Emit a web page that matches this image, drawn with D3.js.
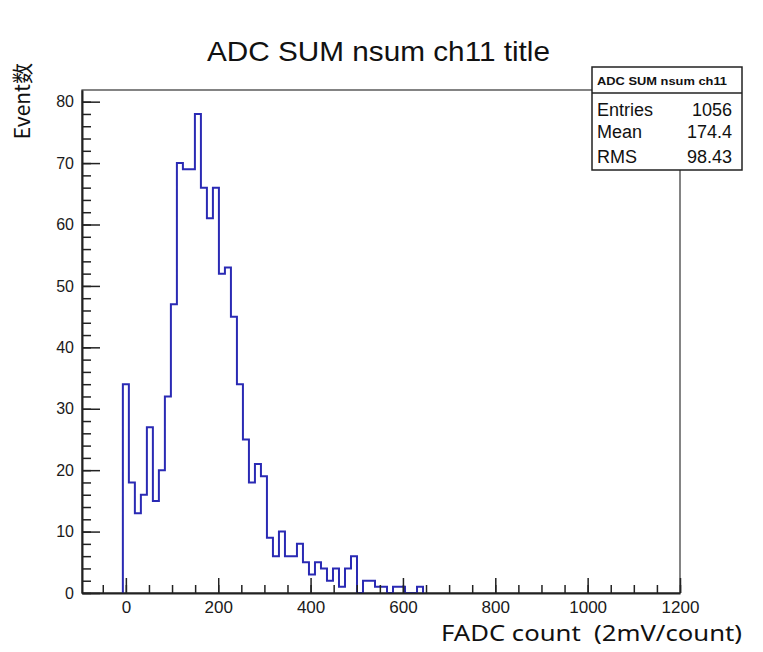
<!DOCTYPE html>
<html lang="en">
<head>
  <meta charset="UTF-8" />
  <title>ADC SUM nsum ch11</title>
  <script src="https://d3js.org/d3.v7.min.js"></script>
  <style>
    body {
      margin: 0;
      background-color: #fff;
    }
    svg {
      display: block;
      font-family: 'Liberation Sans', Arial, sans-serif;
    }
    .tick text {
      fill: #1a1a1a;
    }
  </style>
</head>
<body>
  <script>
    // histogram contents, one count per bin (bin width 13, first bin starts at -6.5)
    const binLow = -6.5;
    const binWidth = 13;
    const counts = [34, 18, 13, 16, 27, 15, 20, 32, 47, 70,
                    69, 69, 78, 66, 61, 66, 52, 53, 45, 34,
                    25, 18, 21, 19, 9, 6, 10, 6, 6, 8,
                    5, 3, 5, 4, 2, 4, 1, 4, 6, 0,
                    2, 2, 1, 1, 0, 1, 1, 0, 0, 1];
    const xMajor = [0, 200, 400, 600, 800, 1000, 1200];
    const yMajor = [0, 10, 20, 30, 40, 50, 60, 70, 80];
    const statNames = ["Entries", "Mean", "RMS"];
    const statValues = ["1056", "174.4", "98.43"];

    const svg = d3.select("body").append("svg")
      .attr("width", 763)
      .attr("height", 652);

    svg.append("rect").attr("width", 763).attr("height", 652).attr("fill", "#fff");

    const x = d3.scaleLinear().domain([-95, 1200]).range([82, 680]);
    const y = d3.scaleLinear().domain([0, 81.9]).range([593, 90]);

    // frame
    svg.append("rect")
      .attr("x", 82).attr("y", 90)
      .attr("width", 598).attr("height", 503)
      .attr("fill", "none")
      .attr("stroke", "#333")
      .attr("stroke-width", 1.2);

    // histogram outline
    const pts = [[binLow, 0]];
    counts.forEach((c, i) => {
      pts.push([binLow + i * binWidth, c]);
      pts.push([binLow + (i + 1) * binWidth, c]);
    });
    pts.push([binLow + counts.length * binWidth, 0]);
    svg.append("path")
      .datum(pts)
      .attr("fill", "none")
      .attr("stroke", "#2a2ab4")
      .attr("stroke-width", 2)
      .attr("d", d3.line().x(d => x(d[0])).y(d => y(d[1])));

    // x axis: minor then major ticks pointing inward
    svg.append("g").attr("transform", "translate(0,593)")
      .call(d3.axisBottom(x).tickValues(d3.range(-50, 1201, 50)).tickSizeInner(-8).tickSizeOuter(0).tickFormat(""))
      .call(g => g.select(".domain").attr("stroke", "#222").attr("stroke-width", 2))
      .call(g => g.selectAll(".tick line").attr("stroke", "#222").attr("stroke-width", 1.5));
    svg.append("g").attr("transform", "translate(0,593)")
      .call(d3.axisBottom(x).tickValues(xMajor).tickSizeInner(-15).tickSizeOuter(0).tickPadding(8).tickFormat(d3.format("d")))
      .call(g => g.select(".domain").remove())
      .call(g => g.selectAll(".tick line").attr("stroke", "#222").attr("stroke-width", 1.5))
      .call(g => g.selectAll(".tick text").attr("font-size", 17).attr("font-family", "'Liberation Sans', Arial, sans-serif"));

    // y axis
    svg.append("g").attr("transform", "translate(82,0)")
      .call(d3.axisLeft(y).tickValues(d3.range(0, 81, 2)).tickSizeInner(-9).tickSizeOuter(0).tickFormat(""))
      .call(g => g.select(".domain").attr("stroke", "#222").attr("stroke-width", 2))
      .call(g => g.selectAll(".tick line").attr("stroke", "#222").attr("stroke-width", 1.5));
    svg.append("g").attr("transform", "translate(82,0)")
      .call(d3.axisLeft(y).tickValues(yMajor).tickSizeInner(-18).tickSizeOuter(0).tickPadding(8))
      .call(g => g.select(".domain").remove())
      .call(g => g.selectAll(".tick line").attr("stroke", "#222").attr("stroke-width", 1.5))
      .call(g => g.selectAll(".tick text").attr("font-size", 16).attr("font-family", "'Liberation Sans', Arial, sans-serif"));

    // title
    svg.append("text")
      .attr("x", 207).attr("y", 61)
      .attr("font-size", 28)
      .attr("fill", "#111")
      .attr("textLength", 343)
      .attr("lengthAdjust", "spacingAndGlyphs")
      .text("ADC SUM nsum ch11 title");

    // axis titles
    svg.append("text")
      .attr("x", 441).attr("y", 641)
      .attr("font-family", "'Noto Sans', sans-serif")
      .attr("font-size", 22)
      .attr("fill", "#111")
      .attr("textLength", 301)
      .attr("lengthAdjust", "spacingAndGlyphs")
      .style("white-space", "pre")
      .text("FADC count  (2mV/count)");

    svg.append("text")
      .attr("transform", "translate(30,63) rotate(-90)")
      .attr("text-anchor", "end")
      .attr("font-family", "'Noto Sans CJK SC', sans-serif")
      .attr("font-size", 21)
      .attr("fill", "#111")
      .text("Event数");

    // stats box
    const box = svg.append("g");
    box.append("rect")
      .attr("x", 592).attr("y", 67)
      .attr("width", 150).attr("height", 103)
      .attr("fill", "#fff")
      .attr("stroke", "#222")
      .attr("stroke-width", 1.5);
    box.append("line")
      .attr("x1", 592).attr("x2", 742)
      .attr("y1", 93).attr("y2", 93)
      .attr("stroke", "#222")
      .attr("stroke-width", 1.5);
    box.append("text")
      .attr("x", 597).attr("y", 85)
      .attr("font-size", 10)
      .attr("font-weight", "bold")
      .attr("fill", "#111")
      .attr("textLength", 130)
      .attr("lengthAdjust", "spacingAndGlyphs")
      .text("ADC SUM nsum ch11");
    const rowY = [116, 138, 163];
    statNames.forEach((name, i) => {
      box.append("text")
        .attr("x", 597).attr("y", rowY[i])
        .attr("font-size", 18)
        .attr("fill", "#111")
        .text(name);
      box.append("text")
        .attr("x", 732).attr("y", rowY[i])
        .attr("text-anchor", "end")
        .attr("font-size", 18)
        .attr("fill", "#111")
        .text(statValues[i]);
    });
  </script>
</body>
</html>
